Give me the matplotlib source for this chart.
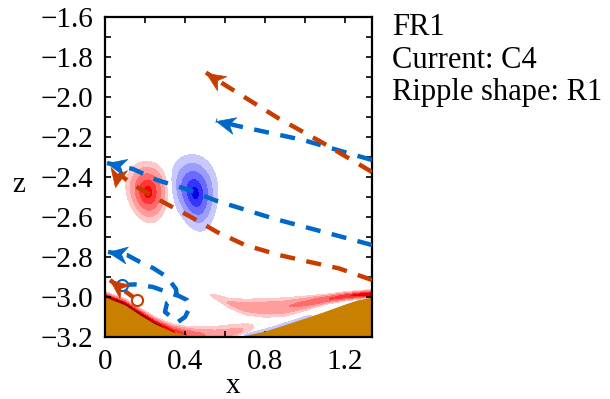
import numpy as np
import matplotlib
matplotlib.use('Agg')
import matplotlib.pyplot as plt
from matplotlib.path import Path
from matplotlib.markers import MarkerStyle
from matplotlib.transforms import Affine2D
from matplotlib.ticker import FixedLocator, MultipleLocator

plt.rcParams['font.family'] = ['Liberation Serif', 'DejaVu Serif']
plt.rcParams['font.size'] = 21

# ---- ripple bed profile ----
bed_x = [0.0, 0.1, 0.175, 0.25, 0.34, 0.45, 0.55, 0.66, 0.8, 0.925, 1.09, 1.2, 1.26, 1.335]
bed_z = [-3.0, -3.04, -3.09, -3.135, -3.175, -3.2, -3.21, -3.2, -3.17, -3.13, -3.075, -3.035, -3.015, -3.0]

# ---- vortices (red = positive, blue = negative) ----
vort_x = [0.215, 0.45]
vort_z = [-2.475, -2.48]
vort_amp = [1.0, -1.0]
vort_sig_long = [0.072, 0.09]
vort_sig_short = [0.05, 0.054]
vort_tilt = [6, 10]
vort_egg = [0.07, 0.1]   # a little wider at the top than at the bottom

# ---- boundary layer on the lee side of the ripple ----
bl_x = [0.0, 0.1, 0.2, 0.3, 0.4, 0.5, 0.6, 0.7, 0.78]
bl_amp = [1.35, 1.3, 1.25, 1.1, 0.75, 0.45, 0.32, 0.22, 0.0]
bl_sig = [0.012, 0.014, 0.016, 0.017, 0.02, 0.026, 0.028, 0.022, 0.01]
bl_off = [0.0, 0.0, 0.0, 0.0, 0.003, 0.012, 0.022, 0.032, 0.035]

# thin negative layer on the stoss side
nbl_x = [0.6, 0.7, 0.85, 1.0, 1.1]
nbl_amp = [0.0, -0.2, -0.2, -0.15, 0.0]

# ---- detached shear layer near the crest ----
rg_x = [0.48, 0.55, 0.62, 0.7, 0.8, 0.9, 1.0, 1.1, 1.2, 1.28, 1.335]
rg_z = [-2.97, -2.998, -3.03, -3.05, -3.055, -3.05, -3.032, -3.012, -2.997, -2.988, -2.985]
rg_amp = [0.0, 0.15, 0.24, 0.34, 0.4, 0.43, 0.52, 0.68, 0.88, 1.02, 1.12]
rg_sig = [0.006, 0.012, 0.018, 0.025, 0.028, 0.027, 0.02, 0.013, 0.011, 0.01, 0.01]

# ---- particle trajectories (start -> end, arrow at end) ----
red1_x = [1.335, 1.09, 0.865, 0.6, 0.505]
red1_z = [-2.375, -2.23, -2.105, -1.94, -1.878]
red2_x = [1.335, 1.17, 1.01, 0.87, 0.7, 0.56, 0.43, 0.29, 0.16, 0.11, 0.075, 0.06, 0.05]
red2_z = [-2.915, -2.857, -2.822, -2.79, -2.74, -2.675, -2.6, -2.525, -2.45, -2.415, -2.39, -2.40, -2.45]
red3_x = [0.16, 0.12, 0.07, 0.025]
red3_z = [-3.015, -2.985, -2.95, -2.915]
blue1_x = [1.335, 0.99, 0.665, 0.555]
blue1_z = [-2.315, -2.215, -2.145, -2.118]
blue2_x = [1.335, 1.15, 0.85, 0.56, 0.42, 0.26, 0.14, 0.01]
blue2_z = [-2.74, -2.69, -2.61, -2.52, -2.465, -2.415, -2.36, -2.33]
blue3_x = [0.083, 0.15, 0.24, 0.31, 0.37, 0.41, 0.425, 0.40, 0.365, 0.30, 0.31, 0.36, 0.355, 0.31, 0.24, 0.175, 0.11, 0.015]
blue3_z = [-2.94, -2.937, -2.95, -2.975, -2.995, -3.015, -3.05, -3.1, -3.125, -3.075, -3.03, -3.0, -2.96, -2.9, -2.855, -2.825, -2.79, -2.775]

red_col = '#C83C00'
blue_col = '#0068C8'
bed_col = '#C98000'

xticks = [0, 0.4, 0.8, 1.2]
xtick_labels = ['0', '0.4', '0.8', '1.2']
yticks = [-3.2, -3.0, -2.8, -2.6, -2.4, -2.2, -2.0, -1.8, -1.6]
ytick_labels = ['\u22123.2', '\u22123.0', '\u22122.8', '\u22122.6', '\u22122.4',
                '\u22122.2', '\u22122.0', '\u22121.8', '\u22121.6']
info_lines = ['FR1', 'Current: C4', 'Ripple shape: R1']

# ==========================================
# vorticity field from the pieces above
# ==========================================
xg = np.linspace(0, 1.335, 600)
zg = np.linspace(-3.25, -1.6, 750)
X, Z = np.meshgrid(xg, zg)
F = np.zeros_like(X)

for cx, cz, a, sl, ss, t, egg in zip(vort_x, vort_z, vort_amp, vort_sig_long,
                                      vort_sig_short, vort_tilt, vort_egg):
    tr = np.radians(t)
    p, q = X - cx, Z - cz
    ua = p * np.sin(tr) - q * np.cos(tr)      # along the long axis (positive = down)
    ub = p * np.cos(tr) + q * np.sin(tr)
    ss_eff = ss * np.clip(1 - egg * ua / sl, 0.5, 1.5)
    F += a * np.exp(-0.5 * (ua / sl) ** 2 - 0.5 * (ub / ss_eff) ** 2)

bed_g = np.interp(X, bed_x, bed_z)
A = np.interp(X, bl_x, bl_amp, right=0)
S = np.interp(X, bl_x, bl_sig)
O = np.interp(X, bl_x, bl_off)
F += A * np.exp(-0.5 * ((Z - bed_g - O) / S) ** 2)

A = np.interp(X, nbl_x, nbl_amp, left=0, right=0)
F += A * np.exp(-0.5 * ((Z - bed_g - 0.003) / 0.005) ** 2)

A = np.interp(X, rg_x, rg_amp, left=0)
S = np.interp(X, rg_x, rg_sig)
C = np.interp(X, rg_x, rg_z)
F += A * np.exp(-0.5 * ((Z - C) / S) ** 2)

# ==========================================
# figure
# ==========================================
fig = plt.figure(figsize=(6.1, 3.99), dpi=100)
ax = fig.add_axes([105 / 610, 1 - 337 / 399, 267 / 610, 320 / 399])

pos_levels = [0.1, 0.23, 0.45, 0.72, 0.93, 1.12, 5]
pos_colors = ['#FFC8C8', '#FF9C9C', '#FF6A6A', '#FF3434', '#F50000', '#AA0000']
neg_levels = [-5, -0.93, -0.72, -0.45, -0.23, -0.1]
neg_colors = ['#0000EB', '#3434FF', '#6A6AFF', '#9C9CFF', '#C8C8FF']
ax.contourf(X, Z, F, levels=pos_levels, colors=pos_colors, zorder=1)
ax.contourf(X, Z, F, levels=neg_levels, colors=neg_colors, zorder=1)

ax.fill_between(bed_x, bed_z, -3.4, color=bed_col, lw=0, zorder=2)

# arrowhead marker (tip at origin, pointing +x)
arrow_path = Path([(0, 0), (-1, 0.45), (-0.7, 0), (-1, -0.45), (0, 0)],
                  [Path.MOVETO, Path.LINETO, Path.LINETO, Path.LINETO, Path.CLOSEPOLY])


def draw_traj(xs, zs, col):
    ax.plot(xs, zs, color=col, lw=3.2, dashes=(3.4, 2.6), zorder=3)
    ang = np.degrees(np.arctan2(zs[-1] - zs[-2], xs[-1] - xs[-2]))
    m = MarkerStyle(arrow_path, transform=Affine2D().rotate_deg(ang))
    ax.plot([xs[-1]], [zs[-1]], marker=m, ms=27, color=col, mec=col, mew=0.5,
            linestyle='none', zorder=4)


draw_traj(blue1_x, blue1_z, blue_col)
draw_traj(blue2_x, blue2_z, blue_col)
draw_traj(blue3_x, blue3_z, blue_col)
ax.plot([blue3_x[0]], [blue3_z[0]], 'o', ms=8, mfc='white', mec=blue_col, mew=1.5, zorder=4)
draw_traj(red1_x, red1_z, red_col)
draw_traj(red2_x, red2_z, red_col)
draw_traj(red3_x, red3_z, red_col)
ax.plot([red3_x[0]], [red3_z[0]], 'o', ms=8, mfc='white', mec=red_col, mew=1.5, zorder=4)

ax.set_xlim(0, 1.335)
ax.set_ylim(-3.2, -1.6)
ax.xaxis.set_major_locator(FixedLocator(xticks))
ax.set_xticklabels(xtick_labels)
ax.yaxis.set_major_locator(FixedLocator(yticks))
ax.set_yticklabels(ytick_labels)
ax.xaxis.set_minor_locator(MultipleLocator(0.2))
ax.yaxis.set_minor_locator(MultipleLocator(0.1))
ax.tick_params(which='both', direction='in', top=True, right=True, length=4, width=1.2)
ax.tick_params(axis='both', which='major', pad=8.5)
for s in ax.spines.values():
    s.set_linewidth(1.6)

ax.set_xlabel('x', va='baseline')
ax.xaxis.set_label_coords(0.479, -0.175)
ax.set_ylabel('z', rotation=0, va='baseline', ha='center')
ax.yaxis.set_label_coords(-0.322, 0.453)

fig.text(392 / 610, 1 - 13 / 399, '\n'.join(info_lines), va='top', ha='left',
         fontsize=22, linespacing=1.16)

fig.savefig('out.png', dpi=100)
